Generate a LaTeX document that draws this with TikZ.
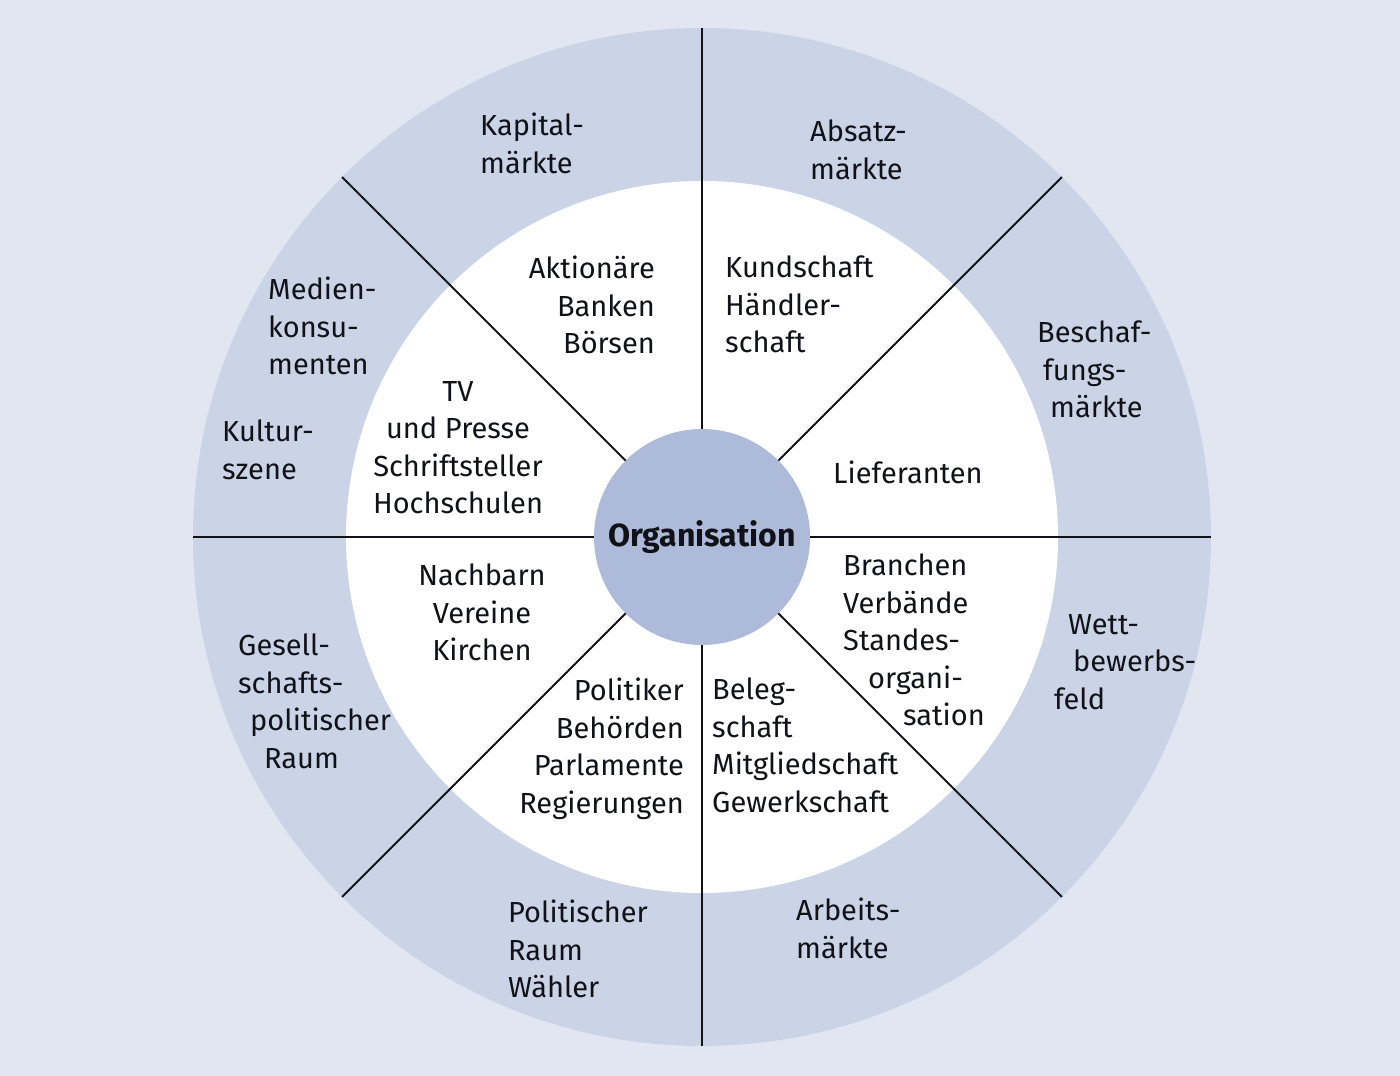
\documentclass[tikz,border=0pt]{standalone}
\usepackage{fontspec}
\setmainfont{Fira Sans}
\definecolor{PageBlue}{HTML}{E2E6F1}
\definecolor{RingBlue}{HTML}{CBD4E6}
\definecolor{CoreBlue}{HTML}{ADBADA}
\definecolor{InkBlack}{HTML}{111218}

\begin{document}
\begin{tikzpicture}[x=1pt, y=1pt,
    zone/.style={circle, draw=none, inner sep=0pt, outer sep=0pt},
    spoke/.style={line width=1.8pt, InkBlack},
    txt/.style={font=\fontsize{29}{37.5}\selectfont, text=InkBlack, inner sep=0pt}]
  % Background and page size
  \fill[PageBlue] (0,0) rectangle (1400,1076);
  \useasboundingbox (0,0) rectangle (1400,1076);
  % Rings round the organisation
  \node[zone, fill=RingBlue, minimum size=1018pt] (outer) at (702,539) {};
  \node[zone, fill=white, minimum size=712pt] (inner) at (702,539) {};
  \node[zone, fill=CoreBlue, minimum size=216pt, txt,
        font=\fontsize{32}{38}\selectfont\bfseries] (org) at (702,539) {Organisation};
  % Spokes
  \draw[spoke] (org.0) -- (outer.0);
  \draw[spoke] (org.45) -- (outer.45);
  \draw[spoke] (org.90) -- (outer.90);
  \draw[spoke] (org.135) -- (outer.135);
  \draw[spoke] (org.180) -- (outer.180);
  \draw[spoke] (org.225) -- (outer.225);
  \draw[spoke] (org.270) -- (outer.270);
  \draw[spoke] (org.315) -- (outer.315);
  % Outer ring: markets and spaces
  \node[txt, anchor=north west, align=left] (kapital) at (480,963) {Kapital-\\märkte};
  \node[txt, anchor=north west, align=left] (absatz) at (810,956) {Absatz-\\märkte};
  \node[txt, anchor=north west, align=left] (medien) at (268,799) {Medien-\\konsu-\\menten};
  \node[txt, anchor=north west, align=left] (kultur) at (222,656) {Kultur-\\szene};
  \node[txt, anchor=north west, align=left] (beschaf) at (1037,755)
    {Beschaf-\\\hspace*{6pt}fungs-\\\hspace*{13pt}märkte};
  \node[txt, anchor=north west, align=left] (wett) at (1054,462)
    {\hspace*{14pt}Wett-\\\hspace*{19pt}bewerbs-\\feld};
  \node[txt, anchor=north west, align=left] (gesell) at (238,442)
    {Gesell-\\schafts-\\\hspace*{12pt}politischer\\\hspace*{26pt}Raum};
  \node[txt, anchor=north west, align=left] (politraum) at (508,176) {Politischer\\Raum\\Wähler};
  \node[txt, anchor=north west, align=left] (arbeit) at (796,178) {Arbeits-\\märkte};
  % Inner ring: stakeholders
  \node[txt, anchor=north, align=center] (medienwelt) at (458,695)
    {TV\\und Presse\\Schriftsteller\\Hochschulen};
  \node[txt, anchor=north east, align=right] (aktionaere) at (655,820) {Aktionäre\\Banken\\Börsen};
  \node[txt, anchor=north west, align=left] (kunden) at (725,820) {Kundschaft\\Händler-\\schaft};
  \node[txt, anchor=north west, align=left] (lieferanten) at (833,615) {Lieferanten};
  \node[txt, anchor=north, align=center] (nachbarn) at (482,512) {Nachbarn\\Vereine\\Kirchen};
  \node[txt, anchor=north west, align=left] (branchen) at (843,522)
    {Branchen\\Verbände\\Standes-\\\hspace*{25pt}organi-\\\hspace*{60pt}sation};
  \node[txt, anchor=north east, align=right] (politiker) at (684,398)
    {Politiker\\Behörden\\Parlamente\\Regierungen};
  \node[txt, anchor=north west, align=left] (belegschaft) at (712,398)
    {Beleg-\\schaft\\Mitgliedschaft\\Gewerkschaft};
\end{tikzpicture}
\end{document}
